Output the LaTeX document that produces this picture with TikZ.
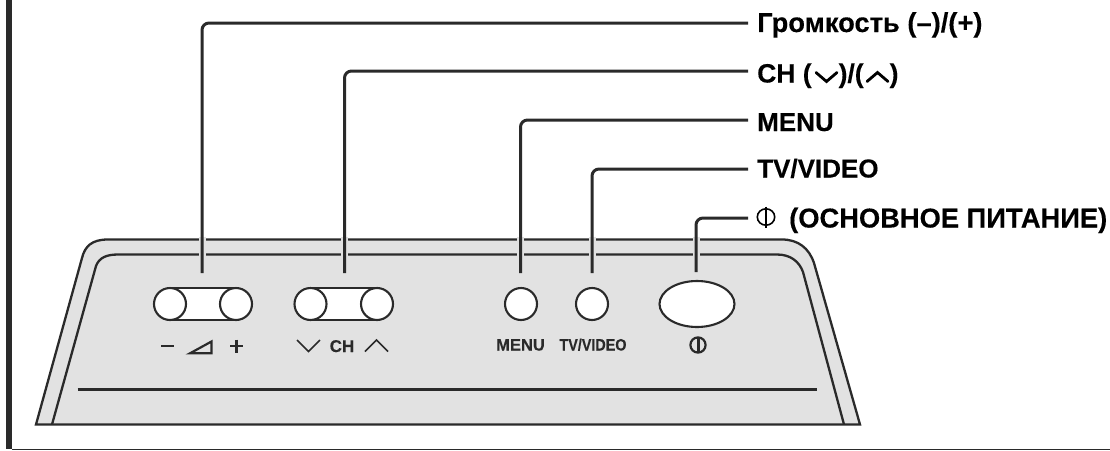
\documentclass[tikz,border=0pt]{standalone}
\usepackage{fontspec}
\setmainfont{Liberation Sans}[BoldFeatures={FakeBold=0.25}]
\definecolor{ink}{HTML}{2A2A2A}
\definecolor{panelgray}{HTML}{E2E2E2}
\tikzset{
  panelline/.style={draw=ink,line width=2.3pt},
  btn/.style={circle,draw=ink,fill=white,line width=2.1pt,minimum size=32pt,inner sep=0pt},
  bigtext/.style={anchor=base west,inner sep=0pt,text=black,font=\fontsize{26}{30}\selectfont\bfseries},
  chtextstyle/.style={bigtext,font=\fontsize{26.5}{30}\selectfont\bfseries},
  cyrtext/.style={bigtext,font=\fontsize{27.3}{30}\selectfont\bfseries},
  smalltext/.style={anchor=base,inner sep=0pt,text=ink,font=\fontsize{16.5}{20}\selectfont\bfseries},
  leader/.style={draw=ink,line width=3pt,rounded corners=7pt},
  gap/.style={draw=panelgray,line width=7pt},
  glyph/.style={draw=ink,line width=1.5pt},
}
\begin{document}
\begin{tikzpicture}[x=1pt,y=-1pt]
\useasboundingbox (0,0) rectangle (1110,450);
% frame
\draw[ink,line width=6.5pt] (9,0) -- (9,449);
\draw[ink,line width=1.4pt] (12,449.4) -- (1110,449.4);
% panel
\path[fill=panelgray] (36,424.5) -- (82,258) .. controls (85,246) and (92,239.5) .. (108,239.5) -- (782,239.5) .. controls (798,239.5) and (809,248) .. (814,263) -- (860,424.5) -- cycle;
\draw[panelline] (860,424.5) -- (814,263) .. controls (809,248) and (798,239.5) .. (782,239.5) -- (108,239.5) .. controls (92,239.5) and (85,246) .. (82,258) -- (36,424.5) -- cycle;
\draw[panelline] (52,424.5) -- (96,266) .. controls (99,258) and (106,254.5) .. (118,254.5) -- (777,254.5) .. controls (790,254.5) and (799,261) .. (803,272) -- (844,424.5);
\draw[panelline] (77.5,389.5) -- (817,389.5);
% buttons
\path[fill=white,draw=ink,line width=1.3pt] (170,288) rectangle (236,320);
\path[fill=white,draw=ink,line width=1.3pt] (310.5,288) rectangle (377,320);
\node[btn] (volminus) at (170,304) {};
\node[btn] (volplus) at (236,304) {};
\node[btn] (chdown) at (310.5,304) {};
\node[btn] (chup) at (377,304) {};
\node[btn] (menubtn) at (521,304) {};
\node[btn] (tvbtn) at (592,304) {};
\draw[draw=ink,fill=white,line width=2.1pt] (697,304) ellipse [x radius=37.5,y radius=23] coordinate (powerbtn);
% labels on the panel
\draw[ink,line width=2.6pt] (161,346) -- (174,346);
\draw[ink,line width=2.6pt] (230,346) -- (243,346) (236.5,339.5) -- (236.5,352.5);
\draw[ink,line width=2.2pt,fill=panelgray,line join=miter] (190,353.3) -- (211.5,341.5) -- (211.5,353.3) -- cycle;
\draw[glyph] (297,340) -- (308.5,351.5) -- (320,340);
\node[smalltext,font=\fontsize{17}{20}\selectfont\bfseries] (chtext) at (342,352) {CH};
\draw[glyph] (365,351.5) -- (376.5,340) -- (388,351.5);
\node[smalltext] (menutext) at (520.5,350.5) {MENU};
\node[smalltext] (tvtext) at (593,350.5) {\scalebox{0.87}[1]{TV/VIDEO}};
\draw[ink,line width=2.2pt] (698,345) circle [radius=7.6];
\draw[ink,line width=3pt] (698,337) -- (698,353);
% callout labels
\node[cyrtext] (lvol) at (757,32) {Громкость (–)/(+)};
\node[chtextstyle] (lch) at (757,82.5) {CH (\hspace{27pt})/(\hspace{26pt})};
\node[bigtext] (lmenu) at (757,131) {MENU};
\node[bigtext] (ltv) at (757,177.5) {TV/VIDEO};
\node[cyrtext] (lpower) at (789,227.5) {(ОСНОВНОЕ ПИТАНИЕ)};
\draw[black,line width=2.8pt,line cap=round] (816,72.5) -- (826.5,81.5) -- (837,72.5);
\draw[black,line width=2.8pt,line cap=round] (867,81.5) -- (877.5,72.5) -- (888,81.5);
\draw[black,line width=1.6pt] (766,217) circle [x radius=8.7,y radius=8.2];
\draw[black,line width=2.2pt] (766,206.5) -- (766,227.5);
% anchors
\coordinate (avol) at (748,23);
\coordinate (ach) at (748,71);
\coordinate (amenu) at (748,120);
\coordinate (atv) at (748,169);
\coordinate (apower) at (748,218);
\coordinate (evol) at (202,273);
\coordinate (ech) at (344.5,273);
\coordinate (emenu) at (520.5,273);
\coordinate (etv) at (592,273);
\coordinate (epower) at (696,272);
% gaps in the panel outline
\foreach \x in {202,344.5,520.5,592,696}{
  \draw[gap] (\x,236.5) -- (\x,242.5);
  \draw[gap] (\x,251.5) -- (\x,257.5);
}
% connectors
\draw[leader] (evol) |- (avol);
\draw[leader] (ech) |- (ach);
\draw[leader] (emenu) |- (amenu);
\draw[leader] (etv) |- (atv);
\draw[leader] (epower) |- (apower);
\end{tikzpicture}
\end{document}
